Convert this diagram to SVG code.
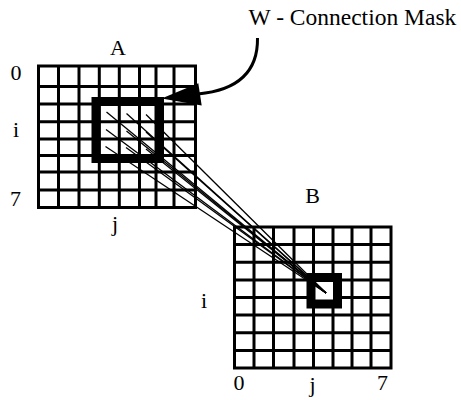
<svg xmlns="http://www.w3.org/2000/svg" width="461" height="400" viewBox="0 0 461 400">
<rect width="461" height="400" fill="#fff"/>
<g id="gridA">
<g fill="none" stroke="#000" stroke-width="3">
<rect x="38.5" y="66" width="157" height="141.5"/>
<path d="M58.5,66V207.5M79,66V207.5M99.3,66V207.5M119.3,66V207.5M139.5,66V207.5M156,66V207.5M174,66V207.5M38.5,86.5H195.5M38.5,104H195.5M38.5,121.7H195.5M38.5,139H195.5M38.5,155.5H195.5M38.5,172H195.5M38.5,190H195.5"/>
</g>
<rect x="96" y="101.5" width="63.5" height="57" fill="none" stroke="#000" stroke-width="9"/>
<text x="118" y="55" font-family="Liberation Serif" font-size="22" text-anchor="middle">A</text>
<text x="16" y="80" font-family="Liberation Serif" font-size="22" text-anchor="middle">0</text>
<text x="16" y="137" font-family="Liberation Serif" font-size="22" text-anchor="middle">i</text>
<text x="15.5" y="206" font-family="Liberation Serif" font-size="22" text-anchor="middle">7</text>
<text x="115" y="231" font-family="Liberation Serif" font-size="22" text-anchor="middle">j</text>
</g>
<g id="gridB">
<g fill="none" stroke="#000" stroke-width="3">
<rect x="234.5" y="227" width="156.5" height="141"/>
<path d="M254,227V368M273.5,227V368M294,227V368M313.5,227V368M333,227V368M352,227V368M371,227V368M234.5,244.6H391M234.5,262.3H391M234.5,279.9H391M234.5,297.5H391M234.5,315.1H391M234.5,332.8H391M234.5,350.4H391"/>
</g>
<rect x="315" y="281.7" width="18.3" height="18.3" fill="#fff"/>
<rect x="311" y="277.5" width="26.5" height="26.5" fill="none" stroke="#000" stroke-width="9"/>
<text x="312.5" y="203" font-family="Liberation Serif" font-size="22" text-anchor="middle">B</text>
<text x="204" y="308" font-family="Liberation Serif" font-size="22" text-anchor="middle">i</text>
<text x="239" y="390" font-family="Liberation Serif" font-size="22" text-anchor="middle">0</text>
<text x="312.5" y="392" font-family="Liberation Serif" font-size="22" text-anchor="middle">j</text>
<text x="382.5" y="390" font-family="Liberation Serif" font-size="22" text-anchor="middle">7</text>
</g>
<g id="maskLabel">
<text x="248.5" y="25" font-family="Liberation Serif" font-size="23.5">W - Connection Mask</text>
</g>
<g id="connectors">
<g stroke="#000" stroke-width="1.3" fill="none">
<line x1="106.5" y1="112" x2="326" y2="293"/>
<line x1="126.5" y1="113.5" x2="326" y2="293"/>
<line x1="146" y1="114.5" x2="326" y2="293"/>
<line x1="106" y1="129.5" x2="326" y2="293"/>
<line x1="126.5" y1="131" x2="326" y2="293"/>
<line x1="146" y1="132" x2="326" y2="293"/>
<line x1="105.5" y1="146.5" x2="326" y2="293"/>
<line x1="126" y1="147.5" x2="326" y2="293"/>
<line x1="146" y1="149" x2="326" y2="293"/>
</g>
<path d="M257.5,38 C258,70 240,90 198,94" fill="none" stroke="#000" stroke-width="3"/>
<polygon points="198.3,83.3 201.7,105.5 161.5,98.5" fill="#000"/>
</g>
</svg>
